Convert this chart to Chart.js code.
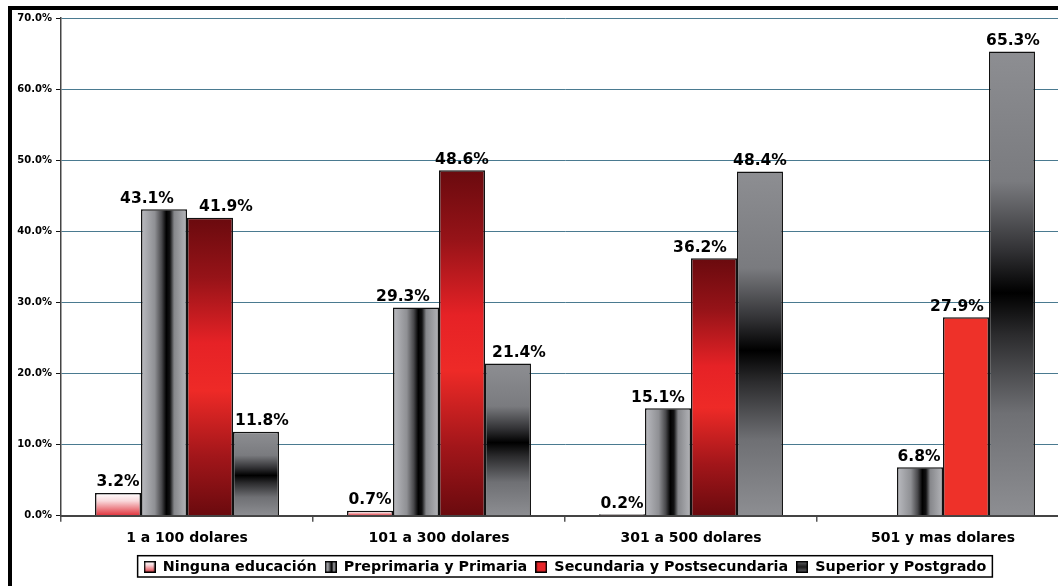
<!DOCTYPE html>
<html><head><meta charset="utf-8">
<script src="https://cdn.jsdelivr.net/npm/chart.js@4.4.1/dist/chart.umd.min.js"></script>
<style>
html,body{margin:0;padding:0;background:#fff;overflow:hidden;width:1058px;height:586px;}
#wrap{position:absolute;left:0;top:0;width:1058px;height:586px;overflow:hidden;background:#fff;}
#c{position:absolute;left:0;top:0;}
#frame{position:absolute;left:8px;top:6px;right:0;bottom:0;border-left:4px solid #000;border-top:4px solid #000;pointer-events:none;}
</style></head><body>
<div id="wrap"><canvas id="c" width="1072" height="586"></canvas><div id="frame"></div></div>
<script>
// ---- data ----
const categories = ['1 a 100 dolares', '101 a 300 dolares', '301 a 500 dolares', '501 y mas dolares'];
const seriesNames = ['Ninguna educación', 'Preprimaria y Primaria', 'Secundaria y Postsecundaria', 'Superior y Postgrado'];
const ninguna = [3.2, 0.7, 0.2, null];
const preprimaria = [43.1, 29.3, 15.1, 6.8];
const secundaria = [41.9, 48.6, 36.2, 27.9];
const superior = [11.8, 21.4, 48.4, 65.3];
const yTicks = [0, 10, 20, 30, 40, 50, 60, 70];

// ---- style ----
const FONT = '"DejaVu Sans", sans-serif';
const CAT_PCT = 0.73;
const N_SERIES = 4;

function barGeom(ctx) {
  const chart = ctx.chart, xs = chart.scales.x, ys = chart.scales.y;
  if (!xs || !ys || !chart.chartArea || ctx.raw == null || ctx.dataIndex == null) return null;
  const catW = (xs.right - xs.left) / categories.length;
  const groupW = catW * CAT_PCT, bw = groupW / N_SERIES;
  const cx = xs.getPixelForValue(ctx.dataIndex);
  const left = cx - groupW / 2 + ctx.datasetIndex * bw;
  const top = ys.getPixelForValue(ctx.raw), bottom = ys.getPixelForValue(0);
  if (!isFinite(left) || !isFinite(top) || !isFinite(bottom)) return null;
  return {left, right: left + bw, top, bottom};
}
function vGrad(ctx, stops, fallback) {
  const g = barGeom(ctx); if (!g || g.bottom - g.top < 0.5) return fallback;
  const gr = ctx.chart.ctx.createLinearGradient(0, g.top, 0, g.bottom);
  stops.forEach(s => gr.addColorStop(s[0], s[1])); return gr;
}
function hGrad(ctx, stops, fallback) {
  const g = barGeom(ctx); if (!g) return fallback;
  const gr = ctx.chart.ctx.createLinearGradient(g.left, 0, g.right, 0);
  stops.forEach(s => gr.addColorStop(s[0], s[1])); return gr;
}
const pinkStops = [[0, '#ffffff'], [0.35, '#f9d9dc'], [1, '#e0323b']];
const grayHStops = [[0, '#babbc0'], [0.3, '#8f9094'], [0.45, '#48484b'], [0.55, '#000000'], [0.63, '#121213'], [0.72, '#86878b'], [1, '#b4b5b9']];
const redStops = [[0, '#6a0a0e'], [0.2, '#961318'], [0.42, '#e62226'], [0.58, '#ee2a27'], [0.8, '#a2161a'], [1, '#6a0a0e']];
const darkStops = [[0, '#8d8e92'], [0.28, '#7a7b7f'], [0.43, '#313134'], [0.52, '#000000'], [0.61, '#2b2b2d'], [0.78, '#6f7074'], [1, '#8d8e92']];

const fills = [
  c => vGrad(c, pinkStops, '#f08088'),
  c => hGrad(c, grayHStops, '#888'),
  c => (c.dataIndex === 3 ? '#ee3129' : vGrad(c, redStops, '#c01c20')),
  c => vGrad(c, darkStops, '#555')
];

function icon(draw) {
  const c = document.createElement('canvas'); c.width = 12; c.height = 12;
  const g = c.getContext('2d'); draw(g);
  g.strokeStyle = '#000'; g.lineWidth = 1.5; g.strokeRect(0.75, 0.75, 10.5, 10.5);
  return c;
}
const legendIcons = [
  icon(g => { const gr = g.createLinearGradient(0, 0, 0, 12); pinkStops.forEach(s => gr.addColorStop(s[0], s[1])); g.fillStyle = gr; g.fillRect(0, 0, 12, 12); }),
  icon(g => { const gr = g.createLinearGradient(0, 0, 12, 0); grayHStops.forEach(s => gr.addColorStop(s[0], s[1])); g.fillStyle = gr; g.fillRect(0, 0, 12, 12); }),
  icon(g => { g.fillStyle = '#e8262a'; g.fillRect(0, 0, 12, 12); }),
  icon(g => { const gr = g.createLinearGradient(0, 0, 0, 12); [[0, '#6a6b6f'], [0.5, '#1a1a1a'], [1, '#6a6b6f']].forEach(s => gr.addColorStop(s[0], s[1])); g.fillStyle = gr; g.fillRect(0, 0, 12, 12); })
];

const valueLabels = {
  id: 'valueLabels',
  afterDatasetsDraw(chart, args, opts) {
    const g = chart.ctx; g.save();
    g.font = 'bold 15.5px ' + FONT; g.fillStyle = '#000'; g.textAlign = 'center'; g.textBaseline = 'alphabetic';
    chart.data.datasets.forEach((ds, di) => {
      chart.getDatasetMeta(di).data.forEach((bar, i) => {
        const v = ds.data[i]; if (v == null) return;
        const dx = (opts.nudge[di] && opts.nudge[di][i]) || 0;
        g.fillText(v.toFixed(1) + '%', bar.x + dx, bar.y - 6.5);
      });
    });
    g.restore();
  }
};
const legendBox = {
  id: 'legendBox',
  afterDraw(chart) {
    const lg = chart.legend; if (!lg || !lg.legendHitBoxes || !lg.legendHitBoxes.length) return;
    let l = Infinity, r = -Infinity, t = Infinity, b = -Infinity;
    lg.legendHitBoxes.forEach(h => { l = Math.min(l, h.left); r = Math.max(r, h.left + h.width); t = Math.min(t, h.top); b = Math.max(b, h.top + h.height); });
    const g = chart.ctx; g.save(); g.strokeStyle = '#000'; g.lineWidth = 1.5;
    g.strokeRect(l - 6, t - 4, (r - l) + 12, (b - t) + 7);
    g.restore();
  }
};

Chart.defaults.font.family = FONT;
new Chart(document.getElementById('c'), {
  type: 'bar',
  data: {
    labels: categories,
    datasets: [ninguna, preprimaria, secundaria, superior].map((d, i) => ({
      label: seriesNames[i], data: d, backgroundColor: fills[i]
    }))
  },
  options: {
    responsive: false, animation: false, devicePixelRatio: 1,
    layout: {padding: {left: 0, right: 3, top: 18, bottom: 2}},
    datasets: {bar: {categoryPercentage: CAT_PCT, barPercentage: 1, borderColor: '#111', borderWidth: 1.5, borderSkipped: 'bottom'}},
    scales: {
      x: {
        grid: {display: true, offset: true, drawOnChartArea: false, drawTicks: true, tickLength: 6, color: '#555', lineWidth: 1.5},
        border: {display: true, color: '#444', width: 2},
        ticks: {color: '#000', font: {family: FONT, weight: 'bold', size: 14}, padding: 8},
        afterFit(s) { s.height = 36; }
      },
      y: {
        min: 0, max: 70,
        afterBuildTicks(s) { s.ticks = yTicks.map(v => ({value: v})); },
        ticks: {callback: v => Number(v).toFixed(1) + '%', color: '#000', font: {family: FONT, weight: 'bold', size: 10}, padding: 4},
        grid: {color: '#4a7a90', lineWidth: 1, tickColor: '#111', tickLength: 5},
        border: {color: '#444', width: 1.5},
        afterFit(s) { s.width = 61; }
      }
    },
    plugins: {
      legend: {
        position: 'bottom', fullSize: false,
        labels: {
          usePointStyle: true, boxWidth: 12, boxHeight: 12, padding: 8, color: '#000',
          font: {family: FONT, weight: 'bold', size: 14.3},
          generateLabels(chart) {
            return chart.data.datasets.map((ds, i) => ({text: ds.label, pointStyle: legendIcons[i], fillStyle: '#000', strokeStyle: '#000', lineWidth: 0, hidden: false, datasetIndex: i}));
          }
        }
      },
      tooltip: {enabled: false},
      valueLabels: {nudge: [[0, 0, 0, 0], [-17, -13, -10, -1], [16, 0, -14, -9], [6, 11, 0, 1]]}
    }
  },
  plugins: [valueLabels, legendBox]
});
</script>
</body></html>
